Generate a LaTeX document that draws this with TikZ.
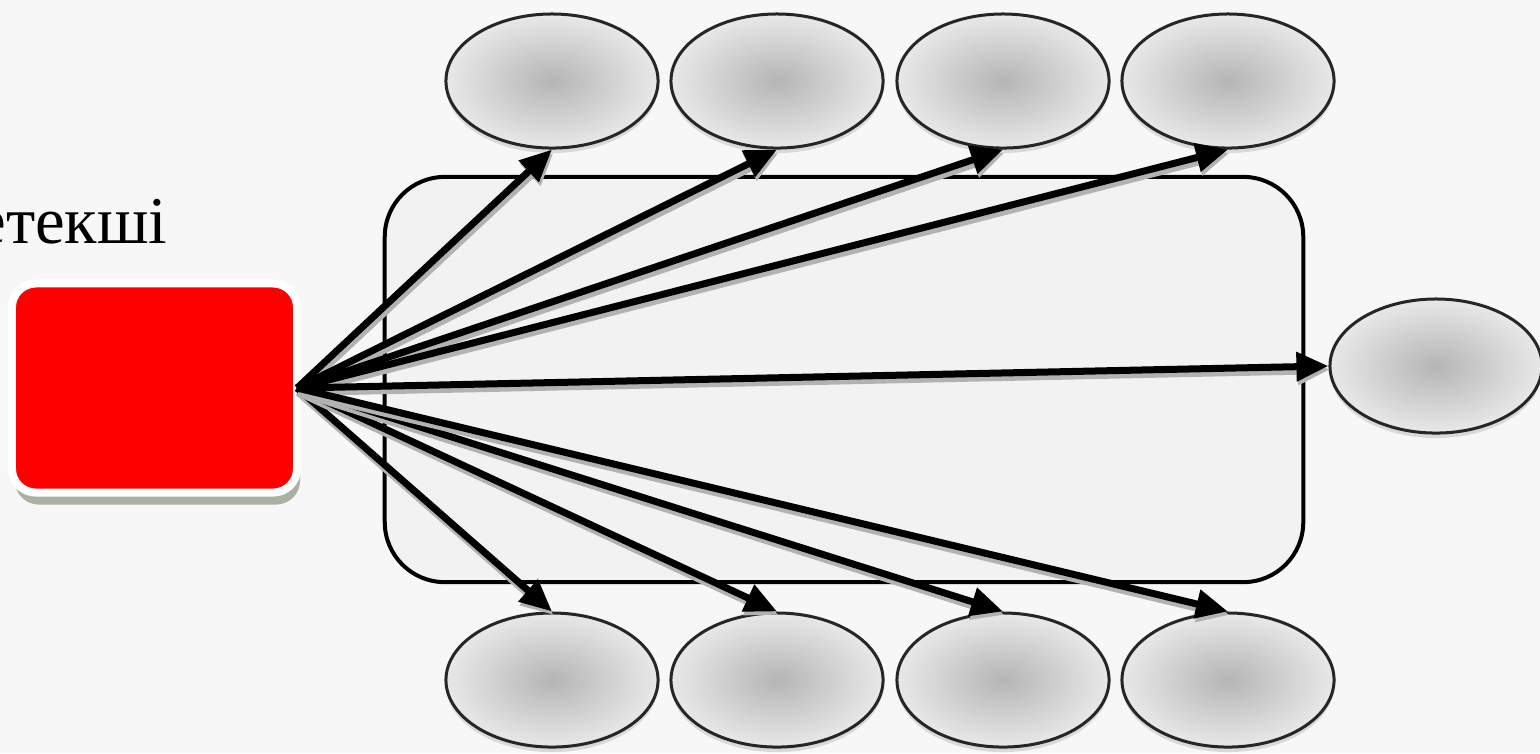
\documentclass[tikz,border=0pt]{standalone}
\usepackage{fontspec}
\setmainfont{Liberation Serif}
\usetikzlibrary{arrows.meta,shapes.geometric,shadows}
\definecolor{bgcol}{RGB}{247,247,247}
\definecolor{panel}{RGB}{242,242,242}
\definecolor{shadowgreen}{RGB}{150,160,140}
\tikzset{
  member/.style={ellipse, draw=black!85, line width=0.3mm, minimum width=2.12cm, minimum height=1.34cm,
    inner color=gray!58, outer color=gray!18,
    drop shadow={shadow xshift=0pt, shadow yshift=-0.5mm, opacity=0.25}},
  arr/.style={->, line width=0.07cm,
    preaction={draw=gray!60, line width=0.09cm, transform canvas={shift={(0.15mm,-0.35mm)}}}},
}
\begin{document}
\begin{tikzpicture}[x=0.01cm, y=-0.01cm, >={Triangle[length=0.32cm,width=0.28cm]}]
            \useasboundingbox (0,0) rectangle (1540,753);
            \fill[bgcol] (0,0) rectangle (1540,753);
            \node[draw, line width=0.04cm, fill=panel, rounded corners=0.6cm, minimum width=9.18cm, minimum height=4.05cm] (team) at (844,379.5) {};
            \node[anchor=base east, inner sep=0pt, font=\fontsize{19}{23}\selectfont] (title) at (168,243) {Жетекші};
            \node[draw=white, line width=0.08cm, fill=red, rounded corners=0.24cm, minimum width=2.85cm, minimum height=2.09cm, outer sep=0pt,
              drop shadow={shadow xshift=0.3mm, shadow yshift=-1.2mm, fill=shadowgreen, opacity=0.8}] (leader) at (154.5,388) {};
            % top row
            \node[member] (t1) at (552,81) {};
            \node[member] (t2) at (777,81) {};
            \node[member] (t3) at (1003,81) {};
            \node[member] (t4) at (1228,81) {};
            % right
            \node[member] (r) at (1436,366) {};
            % bottom row
            \node[member] (b1) at (552,680) {};
            \node[member] (b2) at (777,680) {};
            \node[member] (b3) at (1003,680) {};
            \node[member] (b4) at (1228,680) {};
            \draw [arr] (leader.east) -- (t1.south);
            \draw [arr] (leader.east) -- (t2.south);
            \draw [arr] (leader.east) -- (t3.south);
            \draw [arr] (leader.east) -- (t4.south);
            \draw [arr] (leader.east) -- (r.west);
            \draw [arr] (leader.east) -- (b1.north);
            \draw [arr] (leader.east) -- (b2.north);
            \draw [arr] (leader.east) -- (b3.north);
            \draw [arr] (leader.east) -- (b4.north);
        \end{tikzpicture}
\end{document}
